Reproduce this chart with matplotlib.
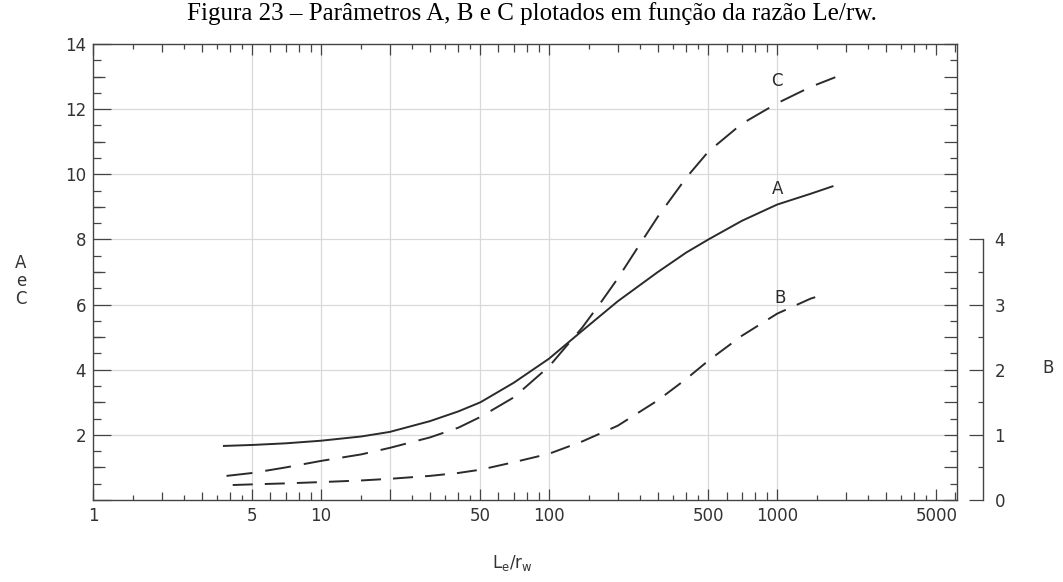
import matplotlib
matplotlib.use('Agg')
import matplotlib.pyplot as plt
from matplotlib.ticker import FixedLocator, FixedFormatter, NullLocator, NullFormatter

# DATA
#===========================================================================
ratio_a = [3.75, 5, 7, 10, 15, 20, 30, 40, 50, 70, 100, 140, 200, 300, 400, 500, 700, 1000, 1400, 1750]
a_vals = [1.66, 1.69, 1.74, 1.82, 1.95, 2.09, 2.42, 2.72, 3.0, 3.6, 4.34, 5.2, 6.1, 7.0, 7.6, 8.0, 8.57, 9.07, 9.4, 9.63]

ratio_c = [3.85, 5, 7, 10, 15, 20, 30, 40, 50, 70, 100, 140, 170, 200, 250, 300, 400, 500, 700, 1000, 1400, 1800]
c_vals = [0.74, 0.83, 1.0, 1.2, 1.4, 1.6, 1.92, 2.22, 2.55, 3.15, 4.1, 5.3, 6.1, 6.8, 7.85, 8.7, 9.9, 10.7, 11.55, 12.18, 12.68, 12.98]

ratio_b = [4.1, 5, 7, 10, 15, 20, 30, 40, 50, 70, 100, 140, 200, 300, 400, 500, 700, 1000, 1400, 1650]
b_vals = [0.23, 0.24, 0.255, 0.275, 0.3, 0.325, 0.37, 0.415, 0.465, 0.58, 0.71, 0.9, 1.14, 1.53, 1.86, 2.14, 2.52, 2.86, 3.09, 3.17]

x_major = [1, 5, 10, 20, 50, 100, 500, 1000, 5000]
x_major_labels = ['1', '5', '10', '', '50', '100', '500', '1000', '5000']
y_major = [0, 2, 4, 6, 8, 10, 12, 14]
y_major_labels = ['', '2', '4', '6', '8', '10', '12', '14']
b_ticks = [0, 1, 2, 3, 4]

title = 'Figura 23 – Parâmetros A, B e C plotados em função da razão Le/rw.'

# STYLE
#===========================================================================
plt.rcParams['font.family'] = ['DejaVu Sans']
ink = '#2b2b2b'
axc = '#444444'
txt = '#333333'
grid_c = '#d9d9d9'
fs = 12

x_int = [k * 10**d for d in range(4) for k in (2, 3, 4, 6, 7, 8, 9)]
x_half = [k * 10**d for d in range(4) for k in (1.5, 2.5, 3.5, 4.5)]

fig = plt.figure(figsize=(10.63, 5.82), dpi=100)
ax = fig.add_axes([93/1063, 1 - 500/582, (957 - 93)/1063, (500 - 44)/582])

ax.set_xscale('log')
ax.set_xlim(1, 6150)
ax.set_ylim(0, 14)

# curves
ax.plot(ratio_a, a_vals, color=ink, lw=1.4)
ax.plot(ratio_c, c_vals, color=ink, lw=1.4, dashes=(13.4, 6.7))

ax2 = ax.twinx()
ax2.set_ylim(0, 7)
ax2.plot(ratio_b, b_vals, color=ink, lw=1.4, dashes=(10.3, 6.2))

# curve labels
ax.text(1000, 12.85, 'C', ha='center', va='center', fontsize=fs, color=ink)
ax.text(1000, 9.55, 'A', ha='center', va='center', fontsize=fs, color=ink)
ax2.text(1030, 3.1, 'B', ha='center', va='center', fontsize=fs, color=ink)

# grid
for xv in [5, 10, 20, 50, 100, 500, 1000]:
    ax.axvline(xv, color=grid_c, lw=0.9, zorder=0)
for yv in [2, 4, 6, 8, 10, 12]:
    ax.axhline(yv, color=grid_c, lw=0.9, zorder=0)

# spines
for s in ax.spines.values():
    s.set_color(axc)
    s.set_linewidth(1.0)

# x ticks (major/int on both sides, halves through secondary axes)
ax.xaxis.set_major_locator(FixedLocator(x_major))
ax.xaxis.set_major_formatter(FixedFormatter(x_major_labels))
ax.xaxis.set_minor_locator(FixedLocator(x_int))
ax.xaxis.set_minor_formatter(NullFormatter())
ax.tick_params(axis='x', which='major', direction='in', length=8, width=0.9,
               color=axc, top=True, bottom=True, labelsize=fs, labelcolor=txt, pad=5)
ax.tick_params(axis='x', which='minor', direction='in', length=5.8, width=0.9,
               color=axc, top=True, bottom=True)
for side in ('bottom', 'top'):
    sx = ax.secondary_xaxis(side)
    sx.xaxis.set_major_locator(FixedLocator(x_half))
    sx.xaxis.set_minor_locator(NullLocator())
    sx.tick_params(axis='x', which='major', direction='in', length=3.6, width=0.9,
                   color=axc, labelbottom=False, labeltop=False)
    sx.spines[side].set_visible(False)

# y ticks, left: 2s long, 1s medium, halves short
ax.yaxis.set_major_locator(FixedLocator(y_major))
ax.yaxis.set_major_formatter(FixedFormatter(y_major_labels))
ax.yaxis.set_minor_locator(FixedLocator([i * 0.5 for i in range(29)]))
ax.tick_params(axis='y', which='major', direction='in', length=13, width=0.9,
               color=axc, left=True, right=False, labelsize=fs, labelcolor=txt, pad=5)
ax.tick_params(axis='y', which='minor', direction='in', length=5.8, width=0.9,
               color=axc, left=True, right=False)
sl = ax.secondary_yaxis('left')
sl.yaxis.set_major_locator(FixedLocator([1, 3, 5, 7, 9, 11, 13]))
sl.yaxis.set_minor_locator(NullLocator())
sl.tick_params(axis='y', direction='in', length=8.6, width=0.9, color=axc, labelleft=False)
sl.spines['left'].set_visible(False)

# y ticks, right side of plot box
sr = ax.secondary_yaxis('right')
sr.yaxis.set_major_locator(FixedLocator(list(range(15))))
sr.yaxis.set_minor_locator(FixedLocator([i * 0.5 for i in range(29)]))
sr.tick_params(axis='y', which='major', direction='in', length=9.4, width=0.9,
               color=axc, labelright=False)
sr.tick_params(axis='y', which='minor', direction='in', length=5, width=0.9, color=axc)
sr.spines['right'].set_visible(False)

# B axis
for s in ('top', 'bottom', 'left'):
    ax2.spines[s].set_visible(False)
ax2.spines['right'].set_position(('outward', 19))
ax2.spines['right'].set_bounds(0, 4)
ax2.spines['right'].set_color(axc)
ax2.spines['right'].set_linewidth(1.0)
ax2.yaxis.set_major_locator(FixedLocator(b_ticks))
ax2.yaxis.set_minor_locator(FixedLocator([0.5, 1.5, 2.5, 3.5]))
ax2.tick_params(axis='y', which='major', direction='in', length=10, width=0.9,
                color=axc, labelsize=fs, labelcolor=txt, pad=8)
ax2.tick_params(axis='y', which='minor', direction='in', length=3.6, width=0.9, color=axc)

# axis labels and title
fig.text(21/1063, 1 - 281/582, 'A\ne\nC', ha='center', va='center', fontsize=fs,
         color=txt, linespacing=1.0)
fig.text(1048/1063, 1 - 368/582, 'B', ha='center', va='center', fontsize=fs, color=txt)
fig.text(512/1063, 1 - 563/582, r'L$_\mathregular{e}$/r$_\mathregular{w}$', ha='center',
         va='center', fontsize=fs, color=txt)
fig.text(532/1063, 1 - 20/582, title, ha='center', va='baseline', fontsize=18,
         family='Liberation Serif', color='black')

fig.savefig('out.png', dpi=100)
